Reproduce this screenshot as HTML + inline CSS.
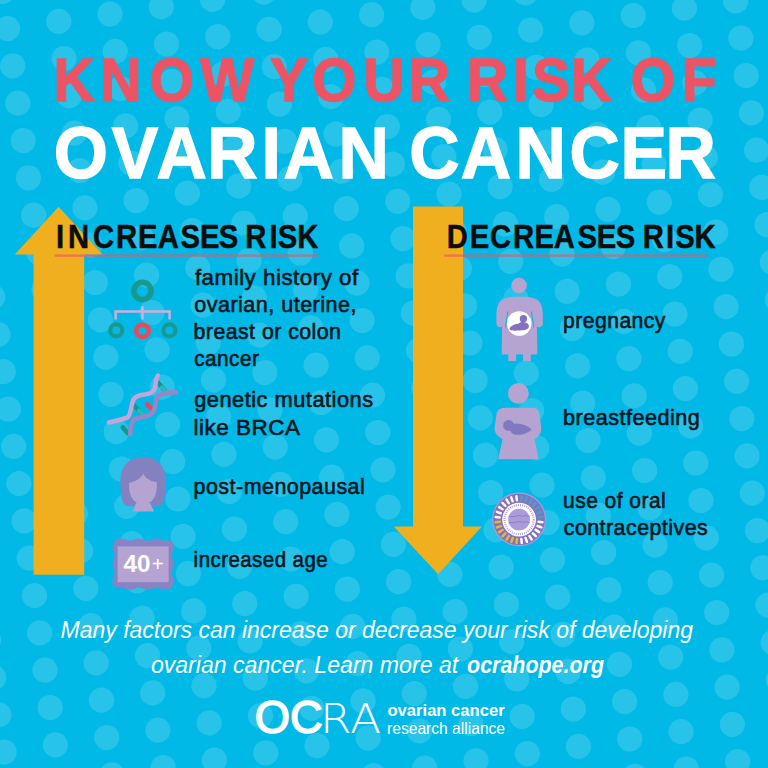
<!DOCTYPE html>
<html><head><meta charset="utf-8"><style>
*{margin:0;padding:0}
html,body{width:768px;height:768px;overflow:hidden;background:#00b9e7}
svg{display:block}
</style></head><body>
<svg width="768" height="768" viewBox="0 0 768 768" font-family="Liberation Sans, sans-serif">
<rect width="768" height="768" fill="#00b9e7"/>
<g fill="#28c3e8"><circle cx="-11.5" cy="640.2" r="12.6"/><circle cx="-6.3" cy="677.5" r="12.6"/><circle cx="-1.1" cy="714.8" r="12.6"/><circle cx="4.1" cy="752.1" r="12.6"/><circle cx="-12.5" cy="259.8" r="12.6"/><circle cx="-7.2" cy="297.1" r="12.6"/><circle cx="-2.0" cy="334.4" r="12.6"/><circle cx="3.2" cy="371.7" r="12.6"/><circle cx="8.4" cy="409.0" r="12.6"/><circle cx="13.6" cy="446.3" r="12.6"/><circle cx="18.9" cy="483.6" r="12.6"/><circle cx="24.1" cy="520.9" r="12.6"/><circle cx="29.3" cy="558.2" r="12.6"/><circle cx="34.5" cy="595.6" r="12.6"/><circle cx="39.7" cy="632.9" r="12.6"/><circle cx="45.0" cy="670.2" r="12.6"/><circle cx="50.2" cy="707.5" r="12.6"/><circle cx="55.4" cy="744.8" r="12.6"/><circle cx="2.3" cy="-8.7" r="12.6"/><circle cx="7.5" cy="28.6" r="12.6"/><circle cx="12.7" cy="65.9" r="12.6"/><circle cx="17.9" cy="103.2" r="12.6"/><circle cx="23.2" cy="140.5" r="12.6"/><circle cx="28.4" cy="177.8" r="12.6"/><circle cx="33.6" cy="215.2" r="12.6"/><circle cx="38.8" cy="252.5" r="12.6"/><circle cx="44.0" cy="289.8" r="12.6"/><circle cx="49.3" cy="327.1" r="12.6"/><circle cx="54.5" cy="364.4" r="12.6"/><circle cx="59.7" cy="401.7" r="12.6"/><circle cx="64.9" cy="439.0" r="12.6"/><circle cx="70.1" cy="476.3" r="12.6"/><circle cx="75.4" cy="513.6" r="12.6"/><circle cx="80.6" cy="550.9" r="12.6"/><circle cx="85.8" cy="588.3" r="12.6"/><circle cx="91.0" cy="625.6" r="12.6"/><circle cx="96.2" cy="662.9" r="12.6"/><circle cx="101.5" cy="700.2" r="12.6"/><circle cx="106.7" cy="737.5" r="12.6"/><circle cx="111.9" cy="774.8" r="12.6"/><circle cx="58.8" cy="21.3" r="12.6"/><circle cx="64.0" cy="58.6" r="12.6"/><circle cx="69.2" cy="95.9" r="12.6"/><circle cx="74.4" cy="133.2" r="12.6"/><circle cx="79.7" cy="170.5" r="12.6"/><circle cx="84.9" cy="207.8" r="12.6"/><circle cx="90.1" cy="245.2" r="12.6"/><circle cx="95.3" cy="282.5" r="12.6"/><circle cx="100.5" cy="319.8" r="12.6"/><circle cx="105.8" cy="357.1" r="12.6"/><circle cx="111.0" cy="394.4" r="12.6"/><circle cx="116.2" cy="431.7" r="12.6"/><circle cx="121.4" cy="469.0" r="12.6"/><circle cx="126.6" cy="506.3" r="12.6"/><circle cx="131.8" cy="543.6" r="12.6"/><circle cx="137.1" cy="580.9" r="12.6"/><circle cx="142.3" cy="618.2" r="12.6"/><circle cx="147.5" cy="655.6" r="12.6"/><circle cx="152.7" cy="692.9" r="12.6"/><circle cx="157.9" cy="730.2" r="12.6"/><circle cx="163.2" cy="767.5" r="12.6"/><circle cx="110.0" cy="14.0" r="12.6"/><circle cx="115.3" cy="51.3" r="12.6"/><circle cx="120.5" cy="88.6" r="12.6"/><circle cx="125.7" cy="125.9" r="12.6"/><circle cx="130.9" cy="163.2" r="12.6"/><circle cx="136.1" cy="200.5" r="12.6"/><circle cx="141.4" cy="237.8" r="12.6"/><circle cx="146.6" cy="275.2" r="12.6"/><circle cx="151.8" cy="312.5" r="12.6"/><circle cx="157.0" cy="349.8" r="12.6"/><circle cx="162.2" cy="387.1" r="12.6"/><circle cx="167.5" cy="424.4" r="12.6"/><circle cx="172.7" cy="461.7" r="12.6"/><circle cx="177.9" cy="499.0" r="12.6"/><circle cx="183.1" cy="536.3" r="12.6"/><circle cx="188.3" cy="573.6" r="12.6"/><circle cx="193.6" cy="610.9" r="12.6"/><circle cx="198.8" cy="648.2" r="12.6"/><circle cx="204.0" cy="685.6" r="12.6"/><circle cx="209.2" cy="722.9" r="12.6"/><circle cx="214.4" cy="760.2" r="12.6"/><circle cx="161.3" cy="6.7" r="12.6"/><circle cx="166.5" cy="44.0" r="12.6"/><circle cx="171.8" cy="81.3" r="12.6"/><circle cx="177.0" cy="118.6" r="12.6"/><circle cx="182.2" cy="155.9" r="12.6"/><circle cx="187.4" cy="193.2" r="12.6"/><circle cx="192.6" cy="230.5" r="12.6"/><circle cx="197.8" cy="267.8" r="12.6"/><circle cx="203.1" cy="305.2" r="12.6"/><circle cx="208.3" cy="342.5" r="12.6"/><circle cx="213.5" cy="379.8" r="12.6"/><circle cx="218.7" cy="417.1" r="12.6"/><circle cx="223.9" cy="454.4" r="12.6"/><circle cx="229.2" cy="491.7" r="12.6"/><circle cx="234.4" cy="529.0" r="12.6"/><circle cx="239.6" cy="566.3" r="12.6"/><circle cx="244.8" cy="603.6" r="12.6"/><circle cx="250.1" cy="640.9" r="12.6"/><circle cx="255.3" cy="678.2" r="12.6"/><circle cx="260.5" cy="715.6" r="12.6"/><circle cx="265.7" cy="752.9" r="12.6"/><circle cx="212.6" cy="-0.6" r="12.6"/><circle cx="217.8" cy="36.7" r="12.6"/><circle cx="223.0" cy="74.0" r="12.6"/><circle cx="228.2" cy="111.3" r="12.6"/><circle cx="233.5" cy="148.6" r="12.6"/><circle cx="238.7" cy="185.9" r="12.6"/><circle cx="243.9" cy="223.2" r="12.6"/><circle cx="249.1" cy="260.5" r="12.6"/><circle cx="254.3" cy="297.8" r="12.6"/><circle cx="259.6" cy="335.2" r="12.6"/><circle cx="264.8" cy="372.5" r="12.6"/><circle cx="270.0" cy="409.8" r="12.6"/><circle cx="275.2" cy="447.1" r="12.6"/><circle cx="280.4" cy="484.4" r="12.6"/><circle cx="285.7" cy="521.7" r="12.6"/><circle cx="290.9" cy="559.0" r="12.6"/><circle cx="296.1" cy="596.3" r="12.6"/><circle cx="301.3" cy="633.6" r="12.6"/><circle cx="306.5" cy="670.9" r="12.6"/><circle cx="311.8" cy="708.3" r="12.6"/><circle cx="317.0" cy="745.6" r="12.6"/><circle cx="263.9" cy="-7.9" r="12.6"/><circle cx="269.1" cy="29.4" r="12.6"/><circle cx="274.3" cy="66.7" r="12.6"/><circle cx="279.5" cy="104.0" r="12.6"/><circle cx="284.7" cy="141.3" r="12.6"/><circle cx="290.0" cy="178.6" r="12.6"/><circle cx="295.2" cy="215.9" r="12.6"/><circle cx="300.4" cy="253.2" r="12.6"/><circle cx="305.6" cy="290.5" r="12.6"/><circle cx="310.8" cy="327.8" r="12.6"/><circle cx="316.1" cy="365.2" r="12.6"/><circle cx="321.3" cy="402.5" r="12.6"/><circle cx="326.5" cy="439.8" r="12.6"/><circle cx="331.7" cy="477.1" r="12.6"/><circle cx="336.9" cy="514.4" r="12.6"/><circle cx="342.2" cy="551.7" r="12.6"/><circle cx="347.4" cy="589.0" r="12.6"/><circle cx="352.6" cy="626.3" r="12.6"/><circle cx="357.8" cy="663.6" r="12.6"/><circle cx="363.0" cy="700.9" r="12.6"/><circle cx="368.2" cy="738.2" r="12.6"/><circle cx="373.5" cy="775.6" r="12.6"/><circle cx="320.3" cy="22.1" r="12.6"/><circle cx="325.6" cy="59.4" r="12.6"/><circle cx="330.8" cy="96.7" r="12.6"/><circle cx="336.0" cy="134.0" r="12.6"/><circle cx="341.2" cy="171.3" r="12.6"/><circle cx="346.4" cy="208.6" r="12.6"/><circle cx="351.7" cy="245.9" r="12.6"/><circle cx="356.9" cy="283.2" r="12.6"/><circle cx="362.1" cy="320.5" r="12.6"/><circle cx="367.3" cy="357.8" r="12.6"/><circle cx="372.5" cy="395.2" r="12.6"/><circle cx="377.8" cy="432.5" r="12.6"/><circle cx="383.0" cy="469.8" r="12.6"/><circle cx="388.2" cy="507.1" r="12.6"/><circle cx="393.4" cy="544.4" r="12.6"/><circle cx="398.6" cy="581.7" r="12.6"/><circle cx="403.9" cy="619.0" r="12.6"/><circle cx="409.1" cy="656.3" r="12.6"/><circle cx="414.3" cy="693.6" r="12.6"/><circle cx="419.5" cy="730.9" r="12.6"/><circle cx="424.7" cy="768.2" r="12.6"/><circle cx="371.6" cy="14.7" r="12.6"/><circle cx="376.8" cy="52.1" r="12.6"/><circle cx="382.1" cy="89.4" r="12.6"/><circle cx="387.3" cy="126.7" r="12.6"/><circle cx="392.5" cy="164.0" r="12.6"/><circle cx="397.7" cy="201.3" r="12.6"/><circle cx="402.9" cy="238.6" r="12.6"/><circle cx="408.2" cy="275.9" r="12.6"/><circle cx="413.4" cy="313.2" r="12.6"/><circle cx="418.6" cy="350.5" r="12.6"/><circle cx="423.8" cy="387.8" r="12.6"/><circle cx="429.0" cy="425.2" r="12.6"/><circle cx="434.3" cy="462.5" r="12.6"/><circle cx="439.5" cy="499.8" r="12.6"/><circle cx="444.7" cy="537.1" r="12.6"/><circle cx="449.9" cy="574.4" r="12.6"/><circle cx="455.1" cy="611.7" r="12.6"/><circle cx="460.4" cy="649.0" r="12.6"/><circle cx="465.6" cy="686.3" r="12.6"/><circle cx="470.8" cy="723.6" r="12.6"/><circle cx="476.0" cy="760.9" r="12.6"/><circle cx="422.9" cy="7.4" r="12.6"/><circle cx="428.1" cy="44.7" r="12.6"/><circle cx="433.3" cy="82.1" r="12.6"/><circle cx="438.5" cy="119.4" r="12.6"/><circle cx="443.8" cy="156.7" r="12.6"/><circle cx="449.0" cy="194.0" r="12.6"/><circle cx="454.2" cy="231.3" r="12.6"/><circle cx="459.4" cy="268.6" r="12.6"/><circle cx="464.6" cy="305.9" r="12.6"/><circle cx="469.9" cy="343.2" r="12.6"/><circle cx="475.1" cy="380.5" r="12.6"/><circle cx="480.3" cy="417.8" r="12.6"/><circle cx="485.5" cy="455.2" r="12.6"/><circle cx="490.7" cy="492.5" r="12.6"/><circle cx="496.0" cy="529.8" r="12.6"/><circle cx="501.2" cy="567.1" r="12.6"/><circle cx="506.4" cy="604.4" r="12.6"/><circle cx="511.6" cy="641.7" r="12.6"/><circle cx="516.8" cy="679.0" r="12.6"/><circle cx="522.1" cy="716.3" r="12.6"/><circle cx="527.3" cy="753.6" r="12.6"/><circle cx="474.2" cy="0.1" r="12.6"/><circle cx="479.4" cy="37.4" r="12.6"/><circle cx="484.6" cy="74.7" r="12.6"/><circle cx="489.8" cy="112.1" r="12.6"/><circle cx="495.0" cy="149.4" r="12.6"/><circle cx="500.2" cy="186.7" r="12.6"/><circle cx="505.5" cy="224.0" r="12.6"/><circle cx="510.7" cy="261.3" r="12.6"/><circle cx="515.9" cy="298.6" r="12.6"/><circle cx="521.1" cy="335.9" r="12.6"/><circle cx="526.4" cy="373.2" r="12.6"/><circle cx="531.6" cy="410.5" r="12.6"/><circle cx="536.8" cy="447.8" r="12.6"/><circle cx="542.0" cy="485.2" r="12.6"/><circle cx="547.2" cy="522.5" r="12.6"/><circle cx="552.5" cy="559.8" r="12.6"/><circle cx="557.7" cy="597.1" r="12.6"/><circle cx="562.9" cy="634.4" r="12.6"/><circle cx="568.1" cy="671.7" r="12.6"/><circle cx="573.3" cy="709.0" r="12.6"/><circle cx="578.5" cy="746.3" r="12.6"/><circle cx="525.4" cy="-7.2" r="12.6"/><circle cx="530.6" cy="30.1" r="12.6"/><circle cx="535.9" cy="67.4" r="12.6"/><circle cx="541.1" cy="104.7" r="12.6"/><circle cx="546.3" cy="142.1" r="12.6"/><circle cx="551.5" cy="179.4" r="12.6"/><circle cx="556.7" cy="216.7" r="12.6"/><circle cx="562.0" cy="254.0" r="12.6"/><circle cx="567.2" cy="291.3" r="12.6"/><circle cx="572.4" cy="328.6" r="12.6"/><circle cx="577.6" cy="365.9" r="12.6"/><circle cx="582.8" cy="403.2" r="12.6"/><circle cx="588.1" cy="440.5" r="12.6"/><circle cx="593.3" cy="477.8" r="12.6"/><circle cx="598.5" cy="515.2" r="12.6"/><circle cx="603.7" cy="552.5" r="12.6"/><circle cx="608.9" cy="589.8" r="12.6"/><circle cx="614.2" cy="627.1" r="12.6"/><circle cx="619.4" cy="664.4" r="12.6"/><circle cx="624.6" cy="701.7" r="12.6"/><circle cx="629.8" cy="739.0" r="12.6"/><circle cx="635.0" cy="776.3" r="12.6"/><circle cx="581.9" cy="22.8" r="12.6"/><circle cx="587.1" cy="60.1" r="12.6"/><circle cx="592.4" cy="97.4" r="12.6"/><circle cx="597.6" cy="134.7" r="12.6"/><circle cx="602.8" cy="172.1" r="12.6"/><circle cx="608.0" cy="209.4" r="12.6"/><circle cx="613.2" cy="246.7" r="12.6"/><circle cx="618.5" cy="284.0" r="12.6"/><circle cx="623.7" cy="321.3" r="12.6"/><circle cx="628.9" cy="358.6" r="12.6"/><circle cx="634.1" cy="395.9" r="12.6"/><circle cx="639.3" cy="433.2" r="12.6"/><circle cx="644.6" cy="470.5" r="12.6"/><circle cx="649.8" cy="507.8" r="12.6"/><circle cx="655.0" cy="545.2" r="12.6"/><circle cx="660.2" cy="582.5" r="12.6"/><circle cx="665.4" cy="619.8" r="12.6"/><circle cx="670.6" cy="657.1" r="12.6"/><circle cx="675.9" cy="694.4" r="12.6"/><circle cx="681.1" cy="731.7" r="12.6"/><circle cx="686.3" cy="769.0" r="12.6"/><circle cx="633.2" cy="15.5" r="12.6"/><circle cx="638.4" cy="52.8" r="12.6"/><circle cx="643.6" cy="90.1" r="12.6"/><circle cx="648.8" cy="127.4" r="12.6"/><circle cx="654.1" cy="164.7" r="12.6"/><circle cx="659.3" cy="202.1" r="12.6"/><circle cx="664.5" cy="239.4" r="12.6"/><circle cx="669.7" cy="276.7" r="12.6"/><circle cx="674.9" cy="314.0" r="12.6"/><circle cx="680.2" cy="351.3" r="12.6"/><circle cx="685.4" cy="388.6" r="12.6"/><circle cx="690.6" cy="425.9" r="12.6"/><circle cx="695.8" cy="463.2" r="12.6"/><circle cx="701.0" cy="500.5" r="12.6"/><circle cx="706.3" cy="537.8" r="12.6"/><circle cx="711.5" cy="575.1" r="12.6"/><circle cx="716.7" cy="612.5" r="12.6"/><circle cx="721.9" cy="649.8" r="12.6"/><circle cx="727.1" cy="687.1" r="12.6"/><circle cx="732.4" cy="724.4" r="12.6"/><circle cx="737.6" cy="761.7" r="12.6"/><circle cx="684.5" cy="8.2" r="12.6"/><circle cx="689.7" cy="45.5" r="12.6"/><circle cx="694.9" cy="82.8" r="12.6"/><circle cx="700.1" cy="120.1" r="12.6"/><circle cx="705.3" cy="157.4" r="12.6"/><circle cx="710.5" cy="194.7" r="12.6"/><circle cx="715.8" cy="232.1" r="12.6"/><circle cx="721.0" cy="269.4" r="12.6"/><circle cx="726.2" cy="306.7" r="12.6"/><circle cx="731.4" cy="344.0" r="12.6"/><circle cx="736.6" cy="381.3" r="12.6"/><circle cx="741.9" cy="418.6" r="12.6"/><circle cx="747.1" cy="455.9" r="12.6"/><circle cx="752.3" cy="493.2" r="12.6"/><circle cx="757.5" cy="530.5" r="12.6"/><circle cx="762.8" cy="567.8" r="12.6"/><circle cx="768.0" cy="605.2" r="12.6"/><circle cx="773.2" cy="642.5" r="12.6"/><circle cx="778.4" cy="679.8" r="12.6"/><circle cx="735.7" cy="0.9" r="12.6"/><circle cx="740.9" cy="38.2" r="12.6"/><circle cx="746.2" cy="75.5" r="12.6"/><circle cx="751.4" cy="112.8" r="12.6"/><circle cx="756.6" cy="150.1" r="12.6"/><circle cx="761.8" cy="187.4" r="12.6"/><circle cx="767.0" cy="224.7" r="12.6"/><circle cx="772.3" cy="262.1" r="12.6"/><circle cx="777.5" cy="299.4" r="12.6"/></g>
<polygon fill="#f0af1e" points="58.6,206.7 102.5,254.5 84.2,254.5 84.2,574.7 33.6,574.7 33.6,254.5 14.8,254.5"/>
<polygon fill="#f0af1e" points="413,206.5 463,206.5 463,526.6 481.9,526.6 438.1,574.2 393.8,526.6 413,526.6"/>
<defs>
<linearGradient id="ul1" x1="0" x2="1" y1="0" y2="0"><stop offset="0" stop-color="#ec5a4a"/><stop offset="1" stop-color="#b57fa6"/></linearGradient>
</defs>
<rect x="54.7" y="254.4" width="263.8" height="2.4" fill="#ec5465" fill-opacity="0.62"/>
<rect x="444.2" y="254.4" width="263.3" height="2.4" fill="#ec5465" fill-opacity="0.62"/>

<!-- family tree -->
<g fill="none">
<circle cx="142.5" cy="290.9" r="8.6" stroke="#1a988e" stroke-width="5.4"/>
<path d="M115.6,319.5V311.6H169.6V319.5M142.5,306.3V319.5" stroke="#cfaede" stroke-width="2.5"/>
<circle cx="116.2" cy="330.4" r="6.0" stroke="#1a988e" stroke-width="4.1"/>
<circle cx="142.5" cy="330.7" r="6.3" stroke="#e84a5a" stroke-width="4.5"/>
<circle cx="169.4" cy="330.4" r="6.0" stroke="#1a988e" stroke-width="4.1"/>
</g>
<!-- DNA -->
<g fill="none" stroke-linecap="round">
<path d="M157.8,382.5 L164.5,389.8 M134,405.5 L143.2,414.8 M122.8,427.2 L127.6,433" stroke="#17948f" stroke-width="4.6"/>
<path d="M162,387.5 L164.5,389.8 M139,410.5 L143.2,414.8" stroke="#2fb6b3" stroke-width="4.2"/>
<path d="M147.2,404.3 L151.8,409" stroke="#e8475a" stroke-width="4.6"/>
<path d="M108.9,422.5 C116,420.5 124,419.5 128,417 C131,414 131,405 133.5,399.5 C136,395.5 141,394.8 146,394.3 C150,393.8 153,392.5 154.5,389 C156,385 155.5,379 157.9,375.5" stroke="#c6a3da" stroke-width="4.5"/>
<path d="M130.2,434.3 C130.5,428 131,422 134,419.5 C137,418 143,417.2 148.5,415.5 C152,414.2 154,412 155,407 C156,402 156,398 158,396 C161,393.5 167,392.8 176.2,392.3" stroke="#9786c8" stroke-width="4.5"/>
</g>
<!-- woman head -->
<path d="M143,457 C157,457 165.8,466 165.8,481 C165.8,492 164.5,500 162,504 C161,505.5 159,506.2 157,506.2 L129,506.2 C127,506.2 125,505.5 124,504 C121.5,500 120.4,492 120.4,481 C120.4,466 129,457 143,457 Z" fill="#8481c0"/>
<path d="M136,503 L150,503 L154.2,511.6 L132.9,511.6 Z" fill="#b5a4d1"/>
<path d="M143.3,473.7 C141,478 136,481.5 129.2,482.8 C128.8,488 129.5,495 133,499.5 C136,503 139.5,504.5 142.9,504.5 C146.5,504.5 150,503 153,499.5 C156.5,495 157.2,488 156.7,482 C150,481.5 145.5,478 143.3,473.7 Z" fill="#b5a4d1"/>
<!-- 40+ -->
<path d="M116.60,539.60 L117.93,539.10 L119.26,538.71 L120.59,538.51 L121.92,538.55 L123.25,538.82 L124.58,539.26 L125.91,539.77 L127.24,540.25 L128.57,540.58 L129.90,540.70 L131.23,540.58 L132.56,540.25 L133.89,539.77 L135.22,539.26 L136.55,538.82 L137.88,538.55 L139.21,538.51 L140.54,538.71 L141.87,539.10 L143.20,539.60 L144.53,540.10 L145.86,540.49 L147.19,540.69 L148.52,540.65 L149.85,540.38 L151.18,539.94 L152.51,539.43 L153.84,538.95 L155.17,538.62 L156.50,538.50 L157.83,538.62 L159.16,538.95 L160.49,539.43 L161.82,539.94 L163.15,540.38 L164.48,540.65 L165.81,540.69 L167.14,540.49 L168.47,540.10 L172.80,542.60 L173.22,543.68 L173.58,544.76 L173.82,545.84 L173.90,546.92 L173.82,548.00 L173.58,549.08 L173.22,550.16 L172.80,551.24 L172.38,552.32 L172.02,553.40 L171.78,554.48 L171.70,555.56 L171.78,556.64 L172.02,557.72 L172.38,558.80 L172.80,559.88 L173.22,560.96 L173.58,562.04 L173.82,563.12 L173.90,564.20 L173.82,565.28 L173.58,566.36 L173.22,567.44 L172.80,568.52 L172.38,569.60 L172.02,570.68 L171.78,571.76 L171.70,572.84 L171.78,573.92 L172.02,575.00 L172.38,576.08 L172.80,577.16 L173.22,578.24 L173.58,579.32 L173.82,580.40 L173.90,581.48 L173.82,582.56 L173.58,583.64 L173.22,584.72 L169.80,588.80 L168.47,589.30 L167.14,589.69 L165.81,589.89 L164.48,589.85 L163.15,589.58 L161.82,589.14 L160.49,588.63 L159.16,588.15 L157.83,587.82 L156.50,587.70 L155.17,587.82 L153.84,588.15 L152.51,588.63 L151.18,589.14 L149.85,589.58 L148.52,589.85 L147.19,589.89 L145.86,589.69 L144.53,589.30 L143.20,588.80 L141.87,588.30 L140.54,587.91 L139.21,587.71 L137.88,587.75 L136.55,588.02 L135.22,588.46 L133.89,588.97 L132.56,589.45 L131.23,589.78 L129.90,589.90 L128.57,589.78 L127.24,589.45 L125.91,588.97 L124.58,588.46 L123.25,588.02 L121.92,587.75 L120.59,587.71 L119.26,587.91 L117.93,588.30 L113.60,585.80 L113.18,584.72 L112.82,583.64 L112.58,582.56 L112.50,581.48 L112.58,580.40 L112.82,579.32 L113.18,578.24 L113.60,577.16 L114.02,576.08 L114.38,575.00 L114.62,573.92 L114.70,572.84 L114.62,571.76 L114.38,570.68 L114.02,569.60 L113.60,568.52 L113.18,567.44 L112.82,566.36 L112.58,565.28 L112.50,564.20 L112.58,563.12 L112.82,562.04 L113.18,560.96 L113.60,559.88 L114.02,558.80 L114.38,557.72 L114.62,556.64 L114.70,555.56 L114.62,554.48 L114.38,553.40 L114.02,552.32 L113.60,551.24 L113.18,550.16 L112.82,549.08 L112.58,548.00 L112.50,546.92 L112.58,545.84 L112.82,544.76 L113.18,543.68 Z" fill="#8983c6"/>
<rect x="117.6" y="546.4" width="51" height="35.8" fill="#b5a4d1"/>
<text x="123.4" y="572.2" font-size="23" font-weight="bold" fill="#fff" font-family="Liberation Sans, sans-serif" textLength="27" lengthAdjust="spacingAndGlyphs">40</text>
<text x="151.8" y="571.3" font-size="20.5" fill="#fff" font-family="Liberation Sans, sans-serif">+</text>
<!-- pregnant -->
<circle cx="519.1" cy="285.6" r="7.8" fill="#b5a4d1"/>
<path fill="#b5a4d1" d="M519.6,296.8 C527,296.8 533,297.2 537.6,300 C540.6,302 542.2,306 542.8,313.4 L542.8,324 C542.8,327.6 536.8,327.8 536.6,326.6 L537,330 L537.3,354.6 L530.8,354.6 L530.8,361.1 L523,361.1 L523,354.6 L516.1,354.6 L516.1,361.1 L508.3,361.1 L508.3,354.6 L501.7,354.6 L502,330 L502.4,326.6 C502.2,327.8 496.4,327.6 496.4,324 L496.4,313.4 C497,306 498.6,302 501.6,300 C506.2,297.2 512.2,296.8 519.6,296.8 Z"/>
<path d="M507.8,311.5 L505.4,327.5 M531.4,311.5 L533.8,327.5" stroke="#00b9e7" stroke-width="1" fill="none"/>
<circle cx="519.2" cy="323.5" r="12.3" fill="#fff"/>
<g fill="#8570bf">
<circle cx="523.4" cy="318.7" r="3.7"/>
<path d="M509.5,328.5 C511,325.5 515.5,323.6 519,323.4 C520,322.2 522.5,321.6 525,322.5 C528,323 529.5,325 528.8,327.3 C527.5,330 523,330.5 518,330.6 C514,330.8 509,330.6 509.5,328.5 Z"/>
</g>
<!-- breastfeeding -->
<circle cx="518.4" cy="393.4" r="10.4" fill="#b5a4d1"/>
<path fill="#b5a4d1" d="M505,407.8 L532,407.8 C536.5,407.8 538.8,410 539.6,414 L541.2,428 C541.5,433 539,437 534.5,439 L538.6,459.2 L498.2,459.2 L502.5,439 C498,437 494.2,433 494.5,428 L496.5,414 C497.3,410 500.5,407.8 505,407.8 Z"/>
<g fill="#7f79c2">
<circle cx="508.6" cy="425.4" r="5.5"/>
<path d="M511.5,424.2 C518,422.3 526,424.3 531.6,429.3 C528,433.6 521,435.6 515,434.6 C511,433.8 509.5,430.5 510,427.5 Z"/>
</g>
<!-- pill pack -->
<circle cx="519.1" cy="519.4" r="26.9" fill="#a99ae0"/>
<circle cx="519.1" cy="519.4" r="25.7" fill="#8472ba"/>
<rect x="-1.3" y="-3.2" width="2.5" height="6.6" rx="1.25" fill="#4a9fd0" transform="translate(519.1,519.6) rotate(6.4) translate(0,-21.6)"/><rect x="-1.3" y="-3.2" width="2.5" height="6.6" rx="1.25" fill="#4a9fd0" transform="translate(519.1,519.6) rotate(19.3) translate(0,-21.6)"/><rect x="-1.3" y="-3.2" width="2.5" height="6.6" rx="1.25" fill="#4a9fd0" transform="translate(519.1,519.6) rotate(32.1) translate(0,-21.6)"/><rect x="-1.3" y="-3.2" width="2.5" height="6.6" rx="1.25" fill="#4a9fd0" transform="translate(519.1,519.6) rotate(45.0) translate(0,-21.6)"/><rect x="-1.3" y="-3.2" width="2.5" height="6.6" rx="1.25" fill="#4a9fd0" transform="translate(519.1,519.6) rotate(57.9) translate(0,-21.6)"/><rect x="-1.3" y="-3.2" width="2.5" height="6.6" rx="1.25" fill="#4a9fd0" transform="translate(519.1,519.6) rotate(70.7) translate(0,-21.6)"/><rect x="-1.3" y="-3.2" width="2.5" height="6.6" rx="1.25" fill="#4a9fd0" transform="translate(519.1,519.6) rotate(83.6) translate(0,-21.6)"/><rect x="-1.3" y="-3.2" width="2.5" height="6.6" rx="1.25" fill="#ffffff" transform="translate(519.1,519.6) rotate(96.4) translate(0,-21.6)"/><rect x="-1.3" y="-3.2" width="2.5" height="6.6" rx="1.25" fill="#ffffff" transform="translate(519.1,519.6) rotate(109.3) translate(0,-21.6)"/><rect x="-1.3" y="-3.2" width="2.5" height="6.6" rx="1.25" fill="#ffffff" transform="translate(519.1,519.6) rotate(122.1) translate(0,-21.6)"/><rect x="-1.3" y="-3.2" width="2.5" height="6.6" rx="1.25" fill="#ffffff" transform="translate(519.1,519.6) rotate(135.0) translate(0,-21.6)"/><rect x="-1.3" y="-3.2" width="2.5" height="6.6" rx="1.25" fill="#ffffff" transform="translate(519.1,519.6) rotate(147.9) translate(0,-21.6)"/><rect x="-1.3" y="-3.2" width="2.5" height="6.6" rx="1.25" fill="#ffffff" transform="translate(519.1,519.6) rotate(160.7) translate(0,-21.6)"/><rect x="-1.3" y="-3.2" width="2.5" height="6.6" rx="1.25" fill="#ffffff" transform="translate(519.1,519.6) rotate(173.6) translate(0,-21.6)"/><rect x="-1.3" y="-3.2" width="2.5" height="6.6" rx="1.25" fill="#eab43c" transform="translate(519.1,519.6) rotate(186.4) translate(0,-21.6)"/><rect x="-1.3" y="-3.2" width="2.5" height="6.6" rx="1.25" fill="#eab43c" transform="translate(519.1,519.6) rotate(199.3) translate(0,-21.6)"/><rect x="-1.3" y="-3.2" width="2.5" height="6.6" rx="1.25" fill="#eab43c" transform="translate(519.1,519.6) rotate(212.1) translate(0,-21.6)"/><rect x="-1.3" y="-3.2" width="2.5" height="6.6" rx="1.25" fill="#eab43c" transform="translate(519.1,519.6) rotate(225.0) translate(0,-21.6)"/><rect x="-1.3" y="-3.2" width="2.5" height="6.6" rx="1.25" fill="#eab43c" transform="translate(519.1,519.6) rotate(237.9) translate(0,-21.6)"/><rect x="-1.3" y="-3.2" width="2.5" height="6.6" rx="1.25" fill="#eab43c" transform="translate(519.1,519.6) rotate(250.7) translate(0,-21.6)"/><rect x="-1.3" y="-3.2" width="2.5" height="6.6" rx="1.25" fill="#eab43c" transform="translate(519.1,519.6) rotate(263.6) translate(0,-21.6)"/><rect x="-1.3" y="-3.2" width="2.5" height="6.6" rx="1.25" fill="#fdf6e8" transform="translate(519.1,519.6) rotate(276.4) translate(0,-21.6)"/><rect x="-1.3" y="-3.2" width="2.5" height="6.6" rx="1.25" fill="#fdf6e8" transform="translate(519.1,519.6) rotate(289.3) translate(0,-21.6)"/><rect x="-1.3" y="-3.2" width="2.5" height="6.6" rx="1.25" fill="#fdf6e8" transform="translate(519.1,519.6) rotate(302.1) translate(0,-21.6)"/><rect x="-1.3" y="-3.2" width="2.5" height="6.6" rx="1.25" fill="#fdf6e8" transform="translate(519.1,519.6) rotate(315.0) translate(0,-21.6)"/><rect x="-1.3" y="-3.2" width="2.5" height="6.6" rx="1.25" fill="#fdf6e8" transform="translate(519.1,519.6) rotate(327.9) translate(0,-21.6)"/><rect x="-1.3" y="-3.2" width="2.5" height="6.6" rx="1.25" fill="#fdf6e8" transform="translate(519.1,519.6) rotate(340.7) translate(0,-21.6)"/><rect x="-1.3" y="-3.2" width="2.5" height="6.6" rx="1.25" fill="#fdf6e8" transform="translate(519.1,519.6) rotate(353.6) translate(0,-21.6)"/>
<circle cx="519.1" cy="519.6" r="16.9" fill="#fff"/>
<circle cx="519.1" cy="519.6" r="14.6" fill="none" stroke="#b4a4e2" stroke-width="2.2" stroke-dasharray="1 1.1"/>
<circle cx="519.1" cy="519.6" r="10.9" fill="#ab9bdb"/>
<path d="M508.5,517 C512,515.5 514,517.5 516.5,516 C519,514.5 521,517 523.5,516 C526,515 527.5,516.5 529.5,516.5 M508.5,523 C512,521.5 514,523.5 516.5,522 C519,520.5 521,523 523.5,522 C526,521 527.5,522.5 529.5,522.5" fill="none" stroke="#8a79c6" stroke-width="0.9"/>

<text transform="translate(0,100.8) scale(0.9253,1)" x="57.83 108.37 161.56 216.30 274.44 291.87 337.24 392.88 441.75 486.23 504.65 554.45 574.84 617.22 661.70 681.79 736.92" y="0" font-size="61.6" font-weight="bold" fill="#ec5465" stroke="#ec5465" stroke-width="1.4">KNOW YOUR RISK OF</text>
<text transform="translate(0,177.7) scale(0.9629,1)" x="55.79 116.09 162.50 215.15 271.68 294.37 351.62 403.91 425.13 478.41 535.27 591.41 644.41 691.27" y="0" font-size="72.4" font-weight="bold" fill="#ffffff" stroke="#ffffff" stroke-width="1.4">OVARIAN CANCER</text>
<text transform="translate(0,248.1) scale(0.8600,1)" x="65.16 79.06 108.16 134.89 160.55 183.30 209.95 232.58 254.25 276.93 285.12 313.33 323.03 345.67" y="0" font-size="34.0" font-weight="bold" fill="#0d0d0d" stroke="#0d0d0d" stroke-width="0.5">INCREASES RISK</text>
<text transform="translate(0,248.1) scale(0.8600,1)" x="519.63 546.16 569.84 596.40 621.65 644.00 671.46 693.83 716.11 738.79 747.45 774.52 785.12 807.53" y="0" font-size="34.0" font-weight="bold" fill="#0d0d0d" stroke="#0d0d0d" stroke-width="0.5">DECREASES RISK</text>
<text transform="translate(194.90,285.40) scale(1.0251,1)" font-size="21.8" fill="#0b1622" stroke="#0b1622" stroke-width="0.6" letter-spacing="0.50"><tspan font-weight="normal" font-style="normal">family history of</tspan></text>
<text transform="translate(194.23,312.40) scale(0.9876,1)" font-size="21.8" fill="#0b1622" stroke="#0b1622" stroke-width="0.6" letter-spacing="0.50"><tspan font-weight="normal" font-style="normal">ovarian, uterine,</tspan></text>
<text transform="translate(193.57,339.30) scale(0.9743,1)" font-size="21.8" fill="#0b1622" stroke="#0b1622" stroke-width="0.6" letter-spacing="0.50"><tspan font-weight="normal" font-style="normal">breast or colon</tspan></text>
<text transform="translate(194.25,365.80) scale(0.9517,1)" font-size="21.8" fill="#0b1622" stroke="#0b1622" stroke-width="0.6" letter-spacing="0.50"><tspan font-weight="normal" font-style="normal">cancer</tspan></text>
<text transform="translate(194.22,407.10) scale(1.0005,1)" font-size="21.8" fill="#0b1622" stroke="#0b1622" stroke-width="0.6" letter-spacing="0.50"><tspan font-weight="normal" font-style="normal">genetic mutations</tspan></text>
<text transform="translate(193.50,434.50) scale(1.0306,1)" font-size="21.8" fill="#0b1622" stroke="#0b1622" stroke-width="0.6" letter-spacing="0.50"><tspan font-weight="normal" font-style="normal">like BRCA</tspan></text>
<text transform="translate(193.56,494.00) scale(0.9829,1)" font-size="21.8" fill="#0b1622" stroke="#0b1622" stroke-width="0.6" letter-spacing="0.50"><tspan font-weight="normal" font-style="normal">post-menopausal</tspan></text>
<text transform="translate(193.62,566.90) scale(0.9381,1)" font-size="21.8" fill="#0b1622" stroke="#0b1622" stroke-width="0.6" letter-spacing="0.50"><tspan font-weight="normal" font-style="normal">increased age</tspan></text>
<text transform="translate(563.08,328.10) scale(0.9670,1)" font-size="21.8" fill="#0b1622" stroke="#0b1622" stroke-width="0.6" letter-spacing="0.50"><tspan font-weight="normal" font-style="normal">pregnancy</tspan></text>
<text transform="translate(563.05,425.00) scale(0.9913,1)" font-size="21.8" fill="#0b1622" stroke="#0b1622" stroke-width="0.6" letter-spacing="0.50"><tspan font-weight="normal" font-style="normal">breastfeeding</tspan></text>
<text transform="translate(563.09,508.10) scale(0.9616,1)" font-size="21.8" fill="#0b1622" stroke="#0b1622" stroke-width="0.6" letter-spacing="0.50"><tspan font-weight="normal" font-style="normal">use of oral</tspan></text>
<text transform="translate(563.73,535.20) scale(0.9794,1)" font-size="21.8" fill="#0b1622" stroke="#0b1622" stroke-width="0.6" letter-spacing="0.50"><tspan font-weight="normal" font-style="normal">contraceptives</tspan></text>
<text transform="translate(60.54,638.20) scale(0.9386,1)" font-size="24.5" fill="#ffffff" ><tspan font-weight="normal" font-style="italic">Many factors can increase or decrease your risk of developing</tspan></text>
<text transform="translate(387.48,716.00) scale(1.0372,1)" font-size="16" fill="#ffffff" ><tspan font-weight="bold" font-style="normal">ovarian cancer</tspan></text>
<text transform="translate(387.02,733.60) scale(0.9773,1)" font-size="16" fill="#ffffff" ><tspan font-weight="normal" font-style="normal">research alliance</tspan></text>
<text y="672.6" fill="#ffffff"><tspan x="150.88" font-size="24.5" font-weight="normal" font-style="italic" textLength="313.74" lengthAdjust="spacingAndGlyphs">ovarian cancer. Learn more at </tspan><tspan x="467.07" font-size="24.5" font-weight="bold" font-style="italic" textLength="136.90" lengthAdjust="spacingAndGlyphs">ocrahope.org</tspan></text>
<text y="733.0" fill="#ffffff"><tspan x="254.68" font-size="46" font-weight="normal" font-style="normal" stroke="#fff" stroke-width="1.6" textLength="67.89" lengthAdjust="spacingAndGlyphs">OC</tspan><tspan x="320.12" font-size="41" font-weight="200" font-style="normal" font-family="DejaVu Sans, sans-serif" textLength="60.95" lengthAdjust="spacingAndGlyphs">RA</tspan></text>
</svg>
</body></html>
